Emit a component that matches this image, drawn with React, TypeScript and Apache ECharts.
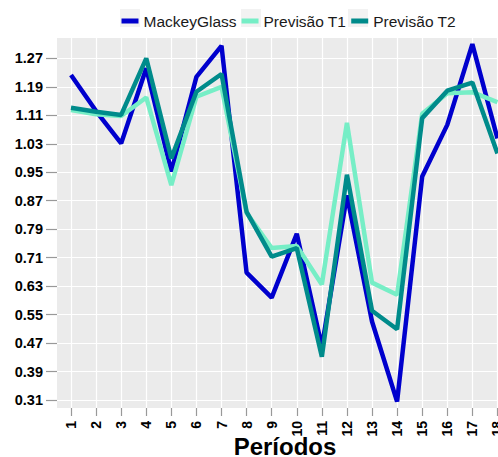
import React, { useEffect, useRef } from "react";
import * as echarts from "echarts";

const periods = [1, 2, 3, 4, 5, 6, 7, 8, 9, 10, 11, 12, 13, 14, 15, 16, 17, 18];
const mackeyGlass = [1.223, 1.122, 1.031, 1.242, 0.952, 1.218, 1.305, 0.668, 0.598, 0.777, 0.46, 0.885, 0.531, 0.306, 0.938, 1.083, 1.31, 1.045];
const previsaoT1 = [1.125, 1.113, 1.108, 1.16, 0.914, 1.162, 1.19, 0.836, 0.737, 0.743, 0.635, 1.089, 0.64, 0.606, 1.114, 1.172, 1.175, 1.147];
const previsaoT2 = [1.131, 1.12, 1.111, 1.27, 0.989, 1.176, 1.226, 0.839, 0.713, 0.737, 0.432, 0.943, 0.561, 0.509, 1.102, 1.179, 1.202, 1.003];
const yTicks = [0.31, 0.39, 0.47, 0.55, 0.63, 0.71, 0.79, 0.87, 0.95, 1.03, 1.11, 1.19, 1.27];
const seriesNames = ["MackeyGlass", "Previsão T1", "Previsão T2"];
const colors = ["#0000CD", "#76EEC6", "#008B8B"];

export default function App() {
  const ref = useRef<HTMLDivElement>(null);
  useEffect(() => {
    if (!ref.current) return;
    const chart = echarts.init(ref.current, undefined, { renderer: "svg" });
    const values = [mackeyGlass, previsaoT1, previsaoT2];
    const font = "Liberation Sans";
    chart.setOption({
      animation: false,
      backgroundColor: "#ffffff",
      textStyle: { fontFamily: font },
      graphic: [120, 241, 348].map((x) => ({
        type: "rect",
        z: -1,
        shape: { x, y: 9, width: 20, height: 18 },
        style: { fill: "#F2F2F2" },
      })),
      legend: {
        top: 13,
        left: 121.5,
        padding: 0,
        itemWidth: 17,
        itemHeight: 5,
        itemGap: 5,
        icon: "rect",
        data: seriesNames,
        textStyle: { fontSize: 15.5, color: "#1a1a1a", fontFamily: font },
      },
      grid: {
        left: 57,
        top: 38,
        right: 0,
        bottom: 49,
        outerBoundsMode: "none",
        containLabel: false,
        show: true,
        backgroundColor: "#EBEBEB",
        borderWidth: 0,
      },
      xAxis: {
        type: "value",
        min: 0.442,
        max: 18.62,
        name: "Períodos",
        nameLocation: "middle",
        nameGap: 26,
        nameMoveOverlap: false,
        nameTextStyle: { fontSize: 24, fontWeight: "bold", color: "#000", fontFamily: font },
        axisLine: { show: false },
        axisTick: { show: true, length: 8, customValues: periods, lineStyle: { color: "#999", width: 1.2 } },
        axisLabel: {
          customValues: periods,
          rotate: 90,
          margin: 13,
          fontSize: 14,
          fontWeight: "bold",
          color: "#000",
          fontFamily: font,
        },
        splitLine: { show: true, lineStyle: { color: "#ffffff", width: 1.2 } },
      },
      yAxis: {
        type: "value",
        min: 0.288,
        max: 1.327,
        axisLine: { show: false },
        axisTick: { show: true, length: 11, customValues: yTicks, lineStyle: { color: "#999", width: 1.2 } },
        axisLabel: {
          customValues: yTicks,
          margin: 14,
          fontSize: 14.5,
          fontWeight: "bold",
          color: "#000",
          fontFamily: font,
          formatter: (v: number) => v.toFixed(2),
        },
        splitLine: { show: true, lineStyle: { color: "#ffffff", width: 1.2 } },
      },
      series: seriesNames.map((name, i) => ({
        name,
        type: "line",
        symbol: "none",
        color: colors[i],
        lineStyle: { width: 4.5, color: colors[i] },
        data: periods.map((p, j) => [p, values[i][j]]),
      })),
    });
    return () => chart.dispose();
  }, []);
  return (
    <div style={{ position: "fixed", left: 0, top: 0, width: 498, height: 457, overflow: "hidden" }}>
      <div ref={ref} style={{ width: 513, height: 457 }} />
    </div>
  );
}
